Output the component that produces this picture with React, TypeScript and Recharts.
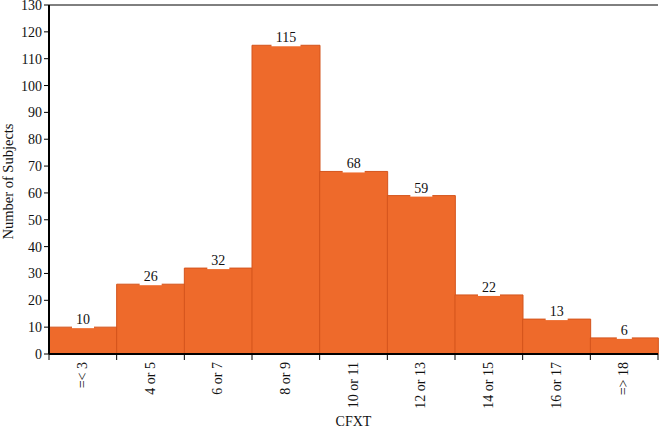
import { BarChart, Bar, XAxis, YAxis, ReferenceLine, LabelList } from 'recharts'

const CATEGORIES = ['=< 3', '4 or 5', '6 or 7', '8 or 9', '10 or 11', '12 or 13', '14 or 15', '16 or 17', '=> 18']
const SUBJECTS = [10, 26, 32, 115, 68, 59, 22, 13, 6]
const Y_TICKS = [0, 10, 20, 30, 40, 50, 60, 70, 80, 90, 100, 110, 120, 130]

const data = CATEGORIES.map((name, i) => ({ name, count: SUBJECTS[i] }))

const FONT = '"Liberation Serif", "Times New Roman", serif'
const INK = '#111'

function XTick(props: any) {
  const { x, y, payload, index, visibleTicksCount } = props
  const half = payload?.offset ?? 0
  const last = index === (visibleTicksCount ?? CATEGORIES.length) - 1
  return (
    <g>
      <line x1={x - half} x2={x - half} y1={y - 8} y2={y - 2} stroke="#000" />
      {last && <line x1={x + half} x2={x + half} y1={y - 8} y2={y - 2} stroke="#000" />}
      <text
        transform={`translate(${x + 4},${y}) rotate(-90)`}
        textAnchor="end"
        fontSize={14}
        fontFamily={FONT}
        fill={INK}
      >
        {payload.value}
      </text>
    </g>
  )
}

function ValueLabel(props: any) {
  const { x, y, width, value } = props
  const cx = x + width / 2
  const w = String(value).length * 7 + 8
  return (
    <g>
      <rect x={cx - w / 2} y={y - 15} width={w} height={16} fill="#fff" />
      <text x={cx} y={y - 3} textAnchor="middle" fontSize={14} fontFamily={FONT} fill={INK}>
        {value}
      </text>
    </g>
  )
}

export default function App() {
  return (
    <div style={{ position: 'absolute', left: 0, top: 0, fontFamily: FONT }}>
      <BarChart
        width={659}
        height={428}
        data={data}
        margin={{ top: 5, right: 1, bottom: 0, left: 0 }}
        barCategoryGap={0}
      >
        <XAxis
          dataKey="name"
          height={74}
          tick={<XTick />}
          tickLine={false}
          axisLine={{ stroke: '#000', strokeWidth: 2 }}
          interval={0}
          label={{ value: 'CFXT', position: 'insideBottom', offset: 2, fontSize: 14, fontFamily: FONT, fill: INK }}
        />
        <YAxis
          domain={[0, 130]}
          ticks={Y_TICKS}
          width={49}
          interval={0}
          tick={{ fontSize: 14, fontFamily: FONT, fill: INK }}
          tickSize={5}
          tickMargin={2}
          tickLine={{ stroke: '#000' }}
          axisLine={{ stroke: '#000', strokeWidth: 2 }}
          label={{
            value: 'Number of Subjects',
            angle: -90,
            position: 'insideLeft',
            offset: 8,
            dy: 2,
            style: { textAnchor: 'middle' },
            fontSize: 14.5,
            fontFamily: FONT,
            fill: INK,
          }}
        />
        <YAxis
          yAxisId="frame"
          orientation="right"
          width={0}
          tick={false}
          tickLine={false}
          axisLine={{ stroke: '#000' }}
        />
        <ReferenceLine y={130} stroke="#000" />
        <Bar dataKey="count" fill="#EE6A2B" stroke="#D4541C" strokeWidth={1} isAnimationActive={false}>
          <LabelList dataKey="count" content={<ValueLabel />} />
        </Bar>
      </BarChart>
    </div>
  )
}
